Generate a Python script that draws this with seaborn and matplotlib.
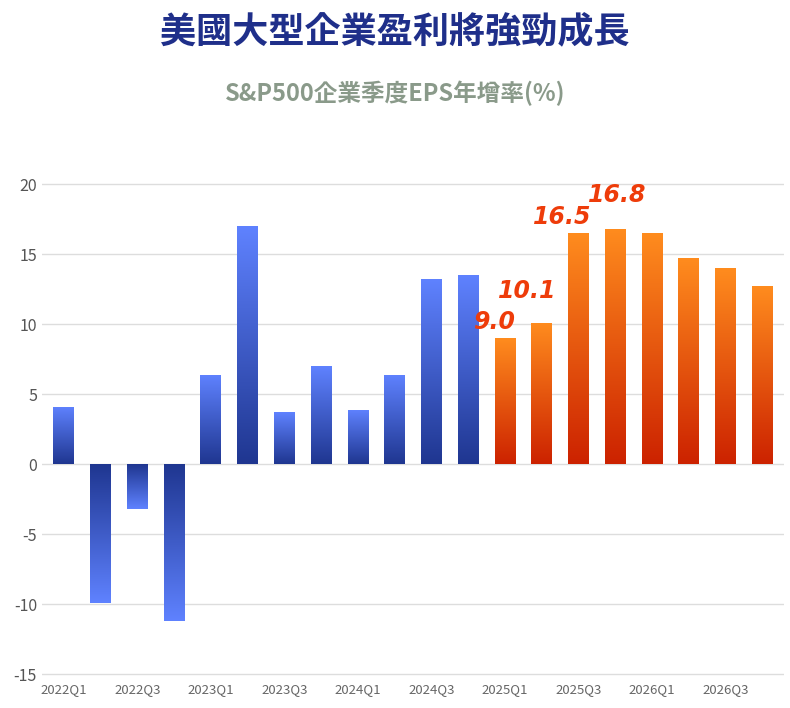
import numpy as np
import pandas as pd
import matplotlib
matplotlib.use("Agg")
import matplotlib.pyplot as plt
import seaborn as sns
from matplotlib.colors import LinearSegmentedColormap

quarters = [f"{y}Q{q}" for y in range(2022, 2027) for q in range(1, 5)]
values = [4.1, -9.9, -3.2, -11.2, 6.4, 17.0, 3.7, 7.0, 3.9, 6.4, 13.2, 13.5,
          9.0, 10.1, 16.5, 16.8, 16.5, 14.7, 14.0, 12.7]
labeled = {"2025Q1": "9.0", "2025Q2": "10.1", "2025Q3": "16.5", "2025Q4": "16.8"}
tick_labels = quarters[::2]

plt.rcParams["font.family"] = ["Noto Sans CJK TC", "Noto Sans CJK SC", "Noto Sans CJK JP", "DejaVu Sans"]
plt.rcParams["axes.unicode_minus"] = False
fig = plt.figure(figsize=(7.9, 7.08), dpi=100)
ax = fig.add_axes([0.053, 0.042, 0.94, 0.7175])
df = pd.DataFrame({"q": quarters, "v": values})
sns.barplot(data=df, x="q", y="v", ax=ax, width=0.57, color="#4466dd", zorder=3)

blue = LinearSegmentedColormap.from_list("b", ["#1f3690", "#5f82ff"])
orange = LinearSegmentedColormap.from_list("o", ["#cc2200", "#ff8c1e"])
grad = np.linspace(0, 1, 256).reshape(-1, 1)
for patch, q, v in zip(ax.patches, quarters, values):
    x0, w = patch.get_x(), patch.get_width()
    cmap = orange if q >= "2025Q1" else blue
    g = grad if v >= 0 else grad[::-1]
    im = ax.imshow(g, cmap=cmap, aspect="auto", origin="lower",
                   extent=[x0, x0 + w, min(0, v), max(0, v)], zorder=3)
    im.set_clip_path(patch)
    patch.set_alpha(0)

offsets = {"2025Q1": (-0.3, 0.3), "2025Q2": (-0.4, 1.4), "2025Q3": (-0.45, 0.3), "2025Q4": (0.05, 1.6)}
for i, q in enumerate(quarters):
    if q in labeled:
        dx, dy = offsets[q]
        ax.text(i + dx, values[i] + dy, labeled[q], ha="center", va="bottom",
                fontsize=17, fontweight="bold", style="italic", color="#ee3c0a",
                family="DejaVu Sans", zorder=5)

ax.set_xlim(-0.6, 19.6)
ax.set_ylim(-15.3, 21)
ax.set_yticks(range(-15, 21, 5))
ax.set_xticks(range(0, 20, 2))
ax.set_xticklabels(tick_labels, fontsize=9.5, color="#666666")
ax.tick_params(axis="y", labelsize=11.5, colors="#555555", length=0)
ax.tick_params(axis="x", length=0)
ax.grid(axis="y", color="#dddddd", linewidth=1, zorder=0)
ax.set_axisbelow(True)
for s in ax.spines.values():
    s.set_visible(False)
ax.set_xlabel("")
ax.set_ylabel("")

fig.text(0.5, 0.955, "美國大型企業盈利將強勁成長", ha="center", va="center",
         fontsize=26, fontweight="bold", color="#1f2f8a")
fig.text(0.5, 0.868, "S&P500企業季度EPS年增率(%)", ha="center", va="center",
         fontsize=17, fontweight="bold", color="#8a9a8a")
fig.savefig("out.png", dpi=100)
